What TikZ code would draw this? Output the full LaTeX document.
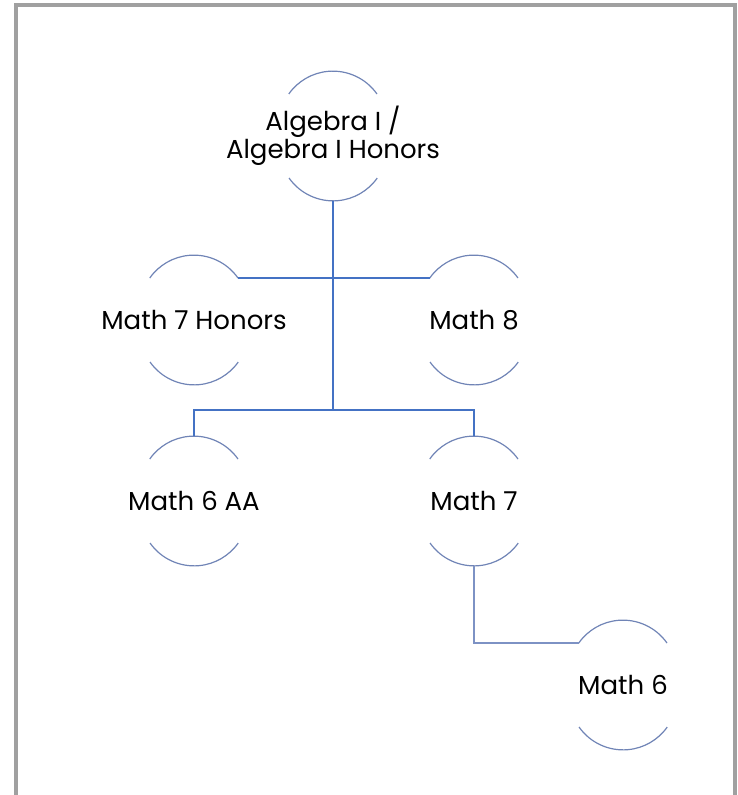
\documentclass[tikz,border=0pt]{standalone}
\usepackage{fontspec}
\setmainfont{Poppins}
\usetikzlibrary{positioning}
\definecolor{cLine}{RGB}{68,114,196}
\definecolor{cLink}{RGB}{125,146,196}
\definecolor{cArc}{RGB}{112,132,182}
\definecolor{cFrame}{RGB}{160,160,160}

\begin{document}
\begin{tikzpicture}[x=1pt,y=1pt,
    course/.style={font=\fontsize{26}{28}\selectfont,align=center,inner sep=0pt},
    ringarc/.style={draw=cArc,line width=1.2pt},
    link/.style={draw=cLine,line width=1.8pt},
    on grid
  ]
  \useasboundingbox (0,0) rectangle (738,-795);
  \draw[cFrame,line width=4pt] (16,-795) -- (16,-5) -- (735,-5) -- (735,-795);

  \node[course] (alg) at (333,-136) {Algebra I /\\Algebra I Honors};
  \node[course,below left=184pt and 139pt of alg] (m7h) {Math 7 Honors};
  \node[course,right=280pt of m7h] (m8) {Math 8};
  \node[course,below=181pt of m7h] (m6aa) {Math 6 AA};
  \node[course,below=181pt of m8] (m7) {Math 7};
  \node[course,below right=184pt and 149pt of m7] (m6) {Math 6};

  % open rings round each course
  \foreach \n in {alg,m7h,m8,m6aa,m7,m6} {
    \draw[ringarc] ([shift={(44,42)}]\n.center) arc[start angle=35.2,end angle=144.8,radius=54];
    \draw[ringarc] ([shift={(-44,-42)}]\n.center) arc[start angle=215.2,end angle=324.8,radius=54];
  }

  \coordinate[below=274pt of alg] (split);
  \draw[link] ([yshift=-65pt]alg.center) -- (split) -| ([yshift=65pt]m6aa.center);
  \draw[link] (split) -| ([yshift=65pt]m7.center);
  \draw[link] ([shift={(44,42)}]m7h.center) -- ([shift={(-44,42)}]m8.center);
  \draw[link,draw=cLink,line width=1.4pt] ([yshift=-65pt]m7.center) |- ([shift={(-44,42)}]m6.center);
\end{tikzpicture}
\end{document}
